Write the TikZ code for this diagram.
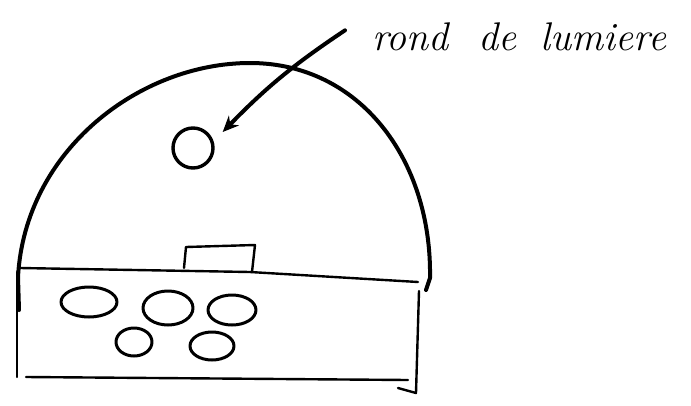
\documentclass[tikz,border=0pt]{standalone}
\usetikzlibrary{arrows.meta}
\begin{document}
\begin{tikzpicture}[x=1pt,y=-1pt,line cap=round,line join=round,
  trait/.style={draw=black,line width=4pt},
  fin/.style={draw=black,line width=2.4pt},
  galet/.style={draw=black,line width=3pt}]

\useasboundingbox (0,0) rectangle (691,405);

% la coupole
\draw [trait] (19,310) -- (18,277) .. controls (25,150) and (140,63) .. (250,63)
      .. controls (360,63) and (432,160) .. (430,278) -- (426,290);

% le socle
\draw [fin] (20,268) -- (250,272) -- (418,282);
\draw [fin] (17,272) -- (17,377);
\draw [fin] (26,377) -- (408,380);
\draw [fin] (419,291) -- (416,393) -- (398,388);

% la petite boite
\draw [fin] (184,268) -- (186,247) -- (255,245) -- (252,272);

% les galets
\draw [galet] (89,302) ellipse [x radius=28, y radius=15];
\draw [galet] (168,308) ellipse [x radius=25, y radius=17];
\draw [galet] (232,310) ellipse [x radius=24, y radius=15];
\draw [galet] (134,342) ellipse [x radius=18, y radius=14];
\draw [galet] (212,346) ellipse [x radius=22, y radius=14];

\node [circle, draw, line width=3.4pt, minimum size=40pt, inner sep=0pt] (lumiere) at (193,148) {};

\node [anchor=base west, inner sep=0pt, font={\fontsize{40}{40}\selectfont\itshape}] (etiquette) at (372,50)
  {rond\hspace{30pt}de\hspace{24pt}lumiere};

\coordinate (depart) at ([shift={(-27,-6)}]etiquette.west);
\draw [trait, -{Stealth[length=16pt,width=14pt]}] (depart) to [bend right=6] ([shift={(8,-16)}]lumiere.east);

\end{tikzpicture}
\end{document}
